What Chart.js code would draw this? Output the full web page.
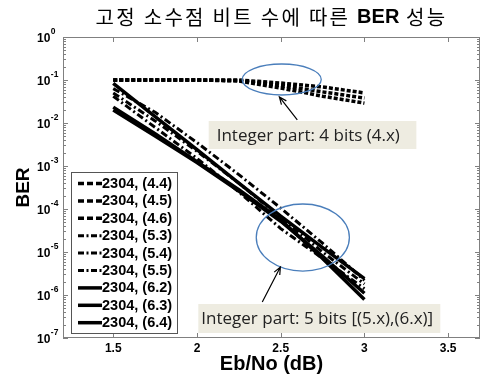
<!DOCTYPE html>
<html>
<head>
<meta charset="utf-8">
<script src="https://cdn.jsdelivr.net/npm/chart.js@4.4.0/dist/chart.umd.min.js"></script>
<style>
  body { margin: 0; background: #fff; }
</style>
</head>
<body>
<canvas id="myChart" width="482" height="381"></canvas>
<script>
// Eb/No points (dB)
const ebNo = [1.5, 1.75, 2, 2.25, 2.5, 2.75, 3];

// BER
const ber44 = [0.1, 0.1, 0.1, 0.1, 0.085, 0.069, 0.05];
const ber45 = [0.1, 0.1, 0.1, 0.097, 0.075, 0.053, 0.038];
const ber46 = [0.1, 0.1, 0.1, 0.095, 0.065, 0.042, 0.029];
const ber53 = [0.063, 0.0178, 3.5e-3, 6.3e-4, 1.05e-4, 1.6e-5, 2.2e-6];
const ber54 = [0.05, 0.0112, 2.2e-3, 4.0e-4, 6.3e-5, 1.0e-5, 1.8e-6];
const ber55 = [0.042, 7.9e-3, 1.5e-3, 2.5e-4, 3.5e-5, 7.1e-6, 1.4e-6];
const ber62 = [0.083, 0.014, 2.4e-3, 4.0e-4, 6.8e-5, 1.26e-5, 2.4e-6];
const ber63 = [0.0234, 5.6e-3, 1.26e-3, 2.8e-4, 5.6e-5, 7.1e-6, 7.9e-7];
const ber64 = [0.02, 5.0e-3, 1.2e-3, 2.6e-4, 5.2e-5, 7.9e-6, 1.1e-6];

const seriesNames = ['2304, (4.4)', '2304, (4.5)', '2304, (4.6)',
    '2304, (5.3)', '2304, (5.4)', '2304, (5.5)',
    '2304, (6.2)', '2304, (6.3)', '2304, (6.4)'];
const seriesValues = [ber44, ber45, ber46, ber53, ber54, ber55, ber62, ber63, ber64];

const xTickVals = [1.5, 2, 2.5, 3, 3.5];
const yExps = [0, -1, -2, -3, -4, -5, -6, -7];

const chartTitle = ['고정 소수점 비트 수에 따른 ', 'BER', ' 성능'];

// callouts, in data units
const notes = [
    { text: 'Integer part: 4 bits (4.x)', x0: 2.07, x1: 3.31, y0: 0.01114, y1: 0.00248, pad: 8 },
    { text: 'Integer part: 5 bits [(5.x),(6.x)]', x0: 2.008, x1: 3.453, y0: 6.18e-7, y1: 1.31e-7, pad: 3 }
];
const rings = [
    { x0: 2.27, x1: 2.742, y0: 0.2355, y1: 0.0448 },
    { x0: 2.354, x1: 2.91, y0: 1.306e-4, y1: 3.61e-6 }
];
const arrows = [
    { x0: 2.599, y0: 0.01175, x1: 2.492, y1: 0.0403 },
    { x0: 2.39, y0: 6.87e-7, x1: 2.498, y1: 4.48e-6 }
];

const lineStyle = (i) => {
    if (i < 3) return { borderDash: [4, 2], borderWidth: 3.5, legendDash: [6, 3] };
    if (i < 6) return { borderDash: [7, 3, 2, 3], borderWidth: 3, legendDash: [6, 2.5, 2, 2.5] };
    return { borderDash: [], borderWidth: 3.5, legendDash: [] };
};

const datasets = seriesValues.map((vals, i) => ({
    label: seriesNames[i],
    data: vals.map((v, k) => ({ x: ebNo[k], y: v })),
    borderColor: '#000',
    backgroundColor: '#000',
    pointRadius: 0,
    tension: 0,
    ...lineStyle(i)
}));

const LATIN = '"Liberation Sans", Arial, sans-serif';

const decorPlugin = {
    id: 'decor',
    afterDatasetsDraw(chart) {
        const { ctx, chartArea: a, scales: { x, y } } = chart;
        ctx.save();

        // box + inward ticks
        ctx.strokeStyle = '#808080';
        ctx.lineWidth = 1;
        ctx.strokeRect(a.left + 0.5, a.top + 0.5, a.right - a.left - 1, a.bottom - a.top - 1);
        ctx.beginPath();
        xTickVals.forEach((v) => {
            const px = Math.round(x.getPixelForValue(v)) + 0.5;
            ctx.moveTo(px, a.bottom); ctx.lineTo(px, a.bottom - 5);
            ctx.moveTo(px, a.top); ctx.lineTo(px, a.top + 5);
        });
        yExps.forEach((e) => {
            const py = Math.round(y.getPixelForValue(Math.pow(10, e))) + 0.5;
            ctx.moveTo(a.left, py); ctx.lineTo(a.left + 5, py);
            ctx.moveTo(a.right, py); ctx.lineTo(a.right - 5, py);
            if (e < 0) {
                for (let m = 2; m <= 9; m++) {
                    const pm = Math.round(y.getPixelForValue(m * Math.pow(10, e))) + 0.5;
                    ctx.moveTo(a.left, pm); ctx.lineTo(a.left + 3, pm);
                    ctx.moveTo(a.right, pm); ctx.lineTo(a.right - 3, pm);
                }
            }
        });
        ctx.stroke();

        // y tick labels 10^e
        ctx.fillStyle = '#000';
        ctx.textBaseline = 'middle';
        ctx.textAlign = 'left';
        yExps.forEach((e) => {
            const py = y.getPixelForValue(Math.pow(10, e));
            ctx.font = 'bold 12px ' + LATIN;
            ctx.fillText('10', a.left - 26, py + 2);
            const w = ctx.measureText('10').width;
            ctx.font = 'bold 8.5px ' + LATIN;
            ctx.fillText(e === 0 ? '0' : '-' + (-e), a.left - 26 + w + 0.5, py - 5);
        });

        // ellipses
        ctx.strokeStyle = '#4A7EBB';
        ctx.lineWidth = 1.3;
        rings.forEach((r) => {
            const l = x.getPixelForValue(r.x0), rr = x.getPixelForValue(r.x1);
            const t = y.getPixelForValue(r.y0), b = y.getPixelForValue(r.y1);
            ctx.beginPath();
            ctx.ellipse((l + rr) / 2, (t + b) / 2, (rr - l) / 2, (b - t) / 2, 0, 0, Math.PI * 2);
            ctx.stroke();
        });

        // arrows
        ctx.strokeStyle = '#000';
        ctx.lineWidth = 1.2;
        arrows.forEach((ar) => {
            const sx = x.getPixelForValue(ar.x0), sy = y.getPixelForValue(ar.y0);
            const ex = x.getPixelForValue(ar.x1), ey = y.getPixelForValue(ar.y1);
            const ang = Math.atan2(ey - sy, ex - sx);
            ctx.beginPath();
            ctx.moveTo(sx, sy); ctx.lineTo(ex, ey);
            ctx.moveTo(ex - 8 * Math.cos(ang - 0.4), ey - 8 * Math.sin(ang - 0.4));
            ctx.lineTo(ex, ey);
            ctx.lineTo(ex - 8 * Math.cos(ang + 0.4), ey - 8 * Math.sin(ang + 0.4));
            ctx.stroke();
        });

        // callout boxes
        notes.forEach((n) => {
            const l = x.getPixelForValue(n.x0), r = x.getPixelForValue(n.x1);
            const t = y.getPixelForValue(n.y0), b = y.getPixelForValue(n.y1);
            ctx.fillStyle = '#EEECE1';
            ctx.fillRect(l, t, r - l, b - t);
            ctx.fillStyle = '#222';
            ctx.font = '17px "Open Sans", sans-serif';
            ctx.textBaseline = 'middle';
            ctx.fillText(n.text, l + n.pad, (t + b) / 2 + 1);
        });

        // legend
        const lx = a.left + 8, ly = a.top + 135, lw = 106, lh = 161;
        ctx.fillStyle = '#fff';
        ctx.fillRect(lx, ly, lw, lh);
        ctx.strokeStyle = '#555';
        ctx.lineWidth = 1;
        ctx.strokeRect(lx + 0.5, ly + 0.5, lw, lh);
        chart.data.datasets.forEach((ds, i) => {
            const ry = ly + 11.5 + i * 17.4;
            ctx.strokeStyle = ds.borderColor;
            ctx.lineWidth = ds.borderWidth;
            ctx.setLineDash(ds.legendDash);
            ctx.beginPath();
            ctx.moveTo(lx + 7, ry); ctx.lineTo(lx + 31, ry);
            ctx.stroke();
            ctx.setLineDash([]);
            ctx.fillStyle = '#000';
            ctx.font = 'bold 14.5px ' + LATIN;
            ctx.textBaseline = 'middle';
            ctx.fillText(ds.label, lx + 31, ry + 0.5);
        });

        ctx.restore();
    },
    afterDraw(chart) {
        const { ctx, chartArea: a } = chart;
        ctx.save();
        // Hangul parts get extra spacing, BER stays tight
        const fonts = ['20px "Noto Sans CJK KR", sans-serif', 'bold 20px ' + LATIN, '20px "Noto Sans CJK KR", sans-serif'];
        const spacing = ['2.3px', '0px', '2.3px'];
        const widths = chartTitle.map((s, i) => {
            ctx.font = fonts[i];
            ctx.letterSpacing = spacing[i];
            return ctx.measureText(s).width;
        });
        let cx = (a.left + a.right) / 2 - widths.reduce((p, c) => p + c, 0) / 2;
        ctx.fillStyle = '#000';
        ctx.textBaseline = 'middle';
        ctx.textAlign = 'left';
        chartTitle.forEach((s, i) => {
            ctx.font = fonts[i];
            ctx.letterSpacing = spacing[i];
            ctx.fillText(s, cx, 17);
            cx += widths[i];
        });
        ctx.restore();
    }
};

const ctx = document.getElementById('myChart').getContext('2d');
const chart = new Chart(ctx, {
    type: 'line',
    data: { datasets: datasets },
    options: {
        responsive: false,
        animation: false,
        devicePixelRatio: 1,
        layout: { padding: { top: 37, right: 2, left: 0, bottom: 0 } },
        plugins: { legend: { display: false }, title: { display: false }, tooltip: { enabled: false } },
        scales: {
            x: {
                type: 'linear',
                min: 1.2,
                max: 3.69,
                grid: { display: false, drawTicks: false },
                border: { display: false },
                afterBuildTicks: (scale) => { scale.ticks = xTickVals.map((v) => ({ value: v })); },
                afterFit: (scale) => { scale.height = 43; },
                ticks: {
                    color: '#000',
                    padding: 3,
                    maxRotation: 0,
                    font: { family: LATIN, size: 12, weight: 'bold' },
                    callback: (v) => String(v)
                },
                title: {
                    display: true,
                    text: 'Eb/No (dB)',
                    color: '#000',
                    font: { family: LATIN, size: 20, weight: 'bold' },
                    padding: { top: 5, bottom: 5 }
                }
            },
            y: {
                type: 'logarithmic',
                min: 1e-7,
                max: 1,
                grid: { display: false, drawTicks: false },
                border: { display: false },
                ticks: { display: false },
                afterFit: (scale) => { scale.width = 63; },
                title: {
                    display: true,
                    text: 'BER',
                    color: '#000',
                    font: { family: LATIN, size: 19, weight: 'bold' },
                    padding: { top: 12, bottom: 12 }
                }
            }
        }
    },
    plugins: [decorPlugin]
});
</script>
</body>
</html>
